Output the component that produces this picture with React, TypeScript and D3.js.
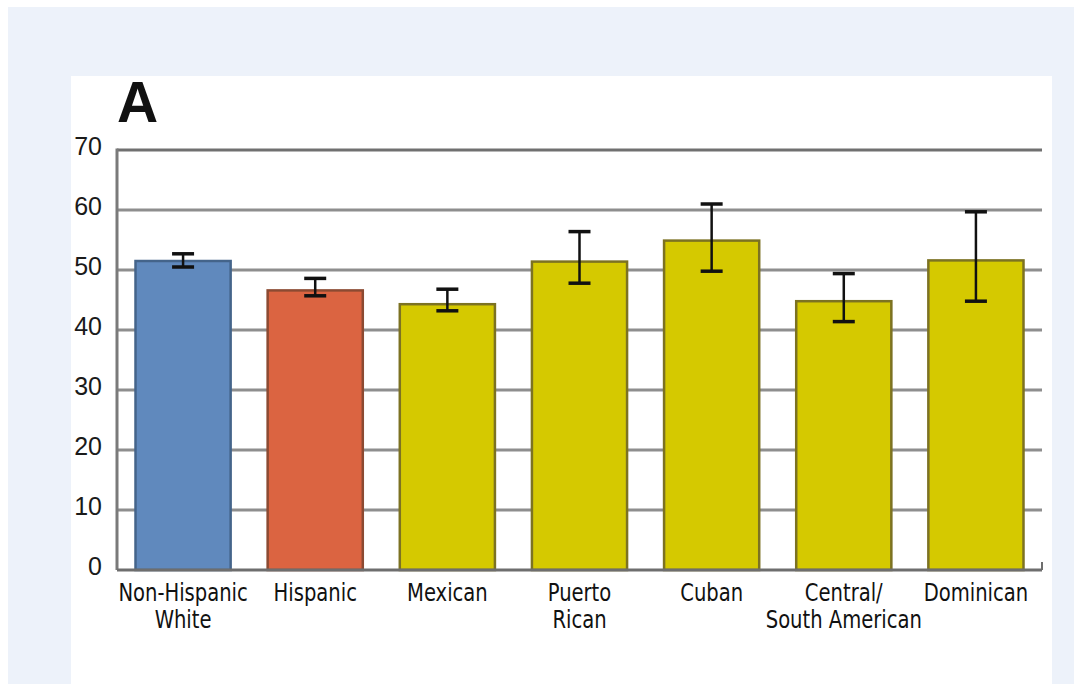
import React from "react";
import * as d3 from "d3";

const categories = [
  ["Non-Hispanic", "White"],
  ["Hispanic"],
  ["Mexican"],
  ["Puerto", "Rican"],
  ["Cuban"],
  ["Central/", "South American"],
  ["Dominican"],
];
const values = [51.5, 46.6, 44.3, 51.4, 54.9, 44.8, 51.6];
const errLow = [50.5, 45.7, 43.2, 47.8, 49.8, 41.4, 44.8];
const errHigh = [52.7, 48.6, 46.8, 56.4, 61.0, 49.4, 59.7];
const groups = ["nhw", "hisp", "sub", "sub", "sub", "sub", "sub"];
const yTicks = [0, 10, 20, 30, 40, 50, 60, 70];

const fills: Record<string, string> = { nhw: "#6089bd", hisp: "#db6441", sub: "#d5c900" };
const strokes: Record<string, string> = { nhw: "#44648a", hisp: "#8c4a32", sub: "#7c7222" };

export default function App() {
  const W = 1074, H = 684;
  const left = 117, right = 1042, top = 150, bottom = 570;
  const x = d3
    .scaleBand<number>()
    .domain(d3.range(categories.length))
    .range([left, right])
    .paddingInner(0.28)
    .paddingOuter(0.14);
  const y = d3.scaleLinear().domain([0, 70]).range([bottom, top]);
  const narrow = "'DejaVu Sans Condensed', 'Liberation Sans', sans-serif";
  const bw = x.bandwidth();
  return (
    <svg width={W} height={H} style={{ position: "absolute", left: 0, top: 0 }}>
      <rect x={8} y={7} width={W - 8} height={H - 7} fill="#edf2fa" />
      <rect x={71} y={76} width={1052 - 71} height={H - 76} fill="#ffffff" />
      <text x={117} y={122} fontFamily="'Liberation Sans', Arial, sans-serif" fontWeight="bold" fontSize={57} fill="#111">
        A
      </text>
      {yTicks.map((t) => (
        <g key={t}>
          {t > 0 && (
            <line x1={left} x2={right} y1={y(t)} y2={y(t)} stroke={t === 70 ? "#707070" : "#8e8e8e"} strokeWidth={3} />
          )}
          <text
            x={102}
            y={y(t) + 5}
            textAnchor="end"
            fontFamily="'Liberation Sans', Arial, sans-serif"
            fontSize={25}
            fill="#1a1a1a"
          >
            {t}
          </text>
        </g>
      ))}
      <line x1={left} x2={left} y1={top - 1.5} y2={bottom} stroke="#7a7a7a" strokeWidth={3} />
      {values.map((v, i) => (
        <rect
          key={i}
          x={x(i)!}
          y={y(v)}
          width={bw}
          height={y(0) - y(v)}
          fill={fills[groups[i]]}
          stroke={strokes[groups[i]]}
          strokeWidth={2.5}
        />
      ))}
      <line x1={left} x2={right} y1={bottom} y2={bottom} stroke="#6e6e6e" strokeWidth={3} />
      <line x1={right} x2={right} y1={bottom} y2={bottom - 8} stroke="#6e6e6e" strokeWidth={2} />
      {values.map((v, i) => {
        const cx = x(i)! + bw / 2;
        return (
          <g key={i} stroke="#111">
            <line x1={cx} x2={cx} y1={y(errLow[i])} y2={y(errHigh[i])} strokeWidth={2.5} />
            <line x1={cx - 11} x2={cx + 11} y1={y(errHigh[i])} y2={y(errHigh[i])} strokeWidth={3.5} />
            <line x1={cx - 11} x2={cx + 11} y1={y(errLow[i])} y2={y(errLow[i])} strokeWidth={3.5} />
          </g>
        );
      })}
      {categories.map((lines, i) => (
        <g key={i} transform={`translate(${x(i)! + bw / 2},601) scale(0.87,1)`}>
          <text textAnchor="middle" fontFamily={narrow} fontSize={25} fill="#111">
            {lines.map((l, j) => (
              <tspan key={j} x={0} dy={j === 0 ? 0 : 27}>
                {l}
              </tspan>
            ))}
          </text>
        </g>
      ))}
    </svg>
  );
}
